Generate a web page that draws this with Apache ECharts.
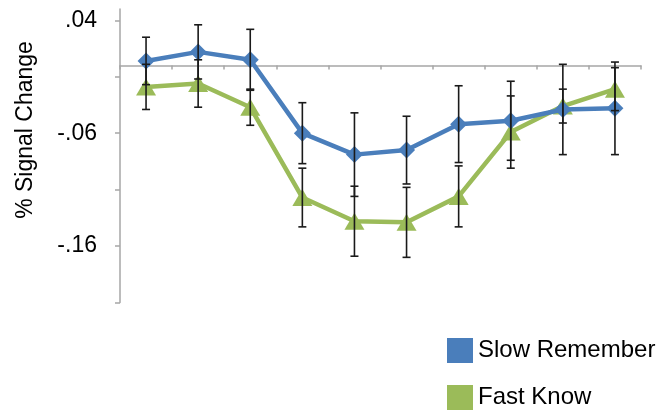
<!DOCTYPE html>
<html>
<head>
<meta charset="utf-8">
<script src="https://cdn.jsdelivr.net/npm/echarts@6/dist/echarts.min.js"></script>
<style>
  html, body { margin: 0; padding: 0; background: #fff; }
  #chart { width: 671px; height: 413px; }
</style>
</head>
<body>
<div id="chart"></div>
<script>
// time points (no labels drawn on the x axis)
const categories = ['1', '2', '3', '4', '5', '6', '7', '8', '9', '10'];

const slowRemember = [0.004, 0.012, 0.005, -0.060, -0.079, -0.075, -0.052, -0.049, -0.039, -0.038];
const slowRememberErr = [0.021, 0.024, 0.027, 0.027, 0.037, 0.030, 0.034, 0.035, 0.040, 0.041];

const fastKnow = [-0.019, -0.016, -0.037, -0.117, -0.138, -0.139, -0.116, -0.059, -0.036, -0.021];
const fastKnowErr = [0.020, 0.021, 0.016, 0.026, 0.031, 0.031, 0.027, 0.032, 0.015, 0.019];

const yTicks = [-0.21, -0.16, -0.11, -0.06, -0.01, 0.04];
const yLabels = [-0.16, -0.06, 0.04];

const FONT = '"Liberation Sans", Arial, sans-serif';
const BLUE = '#4a7ebb';
const GREEN = '#9bbb59';

// 误差线数据 [index, low, high]
function errData(vals, errs) {
    return vals.map((v, i) => [i, v - errs[i], v + errs[i]]);
}

function renderErr(params, api) {
    const x = api.value(0);
    const lo = api.coord([x, api.value(1)]);
    const hi = api.coord([x, api.value(2)]);
    const cap = 4;
    const style = { stroke: '#1a1a1a', lineWidth: 1.6 };
    return {
        type: 'group',
        children: [
            { type: 'line', shape: { x1: hi[0], y1: hi[1], x2: lo[0], y2: lo[1] }, style: style },
            { type: 'line', shape: { x1: hi[0] - cap, y1: hi[1], x2: hi[0] + cap, y2: hi[1] }, style: style },
            { type: 'line', shape: { x1: lo[0] - cap, y1: lo[1], x2: lo[0] + cap, y2: lo[1] }, style: style }
        ]
    };
}

function fmt(v) {
    const n = Math.round(Math.abs(v) * 100);
    return (v < 0 ? '-' : '') + '.' + String(n).padStart(2, '0');
}

const myChart = echarts.init(document.getElementById('chart'));
myChart.setOption({
    animation: false,
    textStyle: { fontFamily: FONT },
    grid: { left: 120, right: 30, top: 9, bottom: 110.5 },
    legend: {
        orient: 'vertical',
        left: 447,
        top: 338,
        padding: 0,
        itemWidth: 26,
        itemHeight: 25,
        itemGap: 22,
        icon: 'rect',
        textStyle: { fontSize: 24, color: '#000', fontFamily: FONT },
        data: ['Slow Remember', 'Fast Know']
    },
    graphic: [{
        type: 'text',
        x: 26,
        y: 130,
        rotation: Math.PI / 2,
        style: {
            text: '% Signal Change',
            fontSize: 23,
            fontFamily: FONT,
            fill: '#000',
            align: 'center',
            verticalAlign: 'middle'
        }
    }],
    xAxis: {
        type: 'category',
        data: categories,
        boundaryGap: true,
        axisLine: { onZero: true, lineStyle: { color: '#a6a6a6', width: 1.5 } },
        axisTick: { show: true, length: 4, lineStyle: { color: '#a6a6a6', width: 1.5 } },
        axisLabel: { show: false },
        splitLine: { show: false }
    },
    yAxis: {
        type: 'value',
        min: -0.21,
        max: 0.05,
        axisLine: { show: true, lineStyle: { color: '#a6a6a6', width: 1.5 } },
        axisTick: { show: true, length: 5, customValues: yTicks, lineStyle: { color: '#a6a6a6', width: 1.5 } },
        axisLabel: {
            customValues: yLabels,
            formatter: fmt,
            fontSize: 23,
            color: '#000',
            margin: 23,
            fontFamily: FONT
        },
        splitLine: { show: false }
    },
    series: [
        {
            name: 'Slow Remember',
            type: 'line',
            data: slowRemember,
            symbol: 'diamond',
            symbolSize: 17,
            lineStyle: { color: BLUE, width: 4.5 },
            itemStyle: { color: BLUE },
            z: 3
        },
        {
            name: 'Fast Know',
            type: 'line',
            data: fastKnow,
            symbol: 'triangle',
            symbolSize: [20, 17],
            lineStyle: { color: GREEN, width: 4.5 },
            itemStyle: { color: GREEN },
            z: 2
        },
        {
            type: 'custom',
            renderItem: renderErr,
            data: errData(slowRemember, slowRememberErr),
            encode: { x: 0, y: [1, 2] },
            z: 5
        },
        {
            type: 'custom',
            renderItem: renderErr,
            data: errData(fastKnow, fastKnowErr),
            encode: { x: 0, y: [1, 2] },
            z: 5
        }
    ]
});
</script>
</body>
</html>
